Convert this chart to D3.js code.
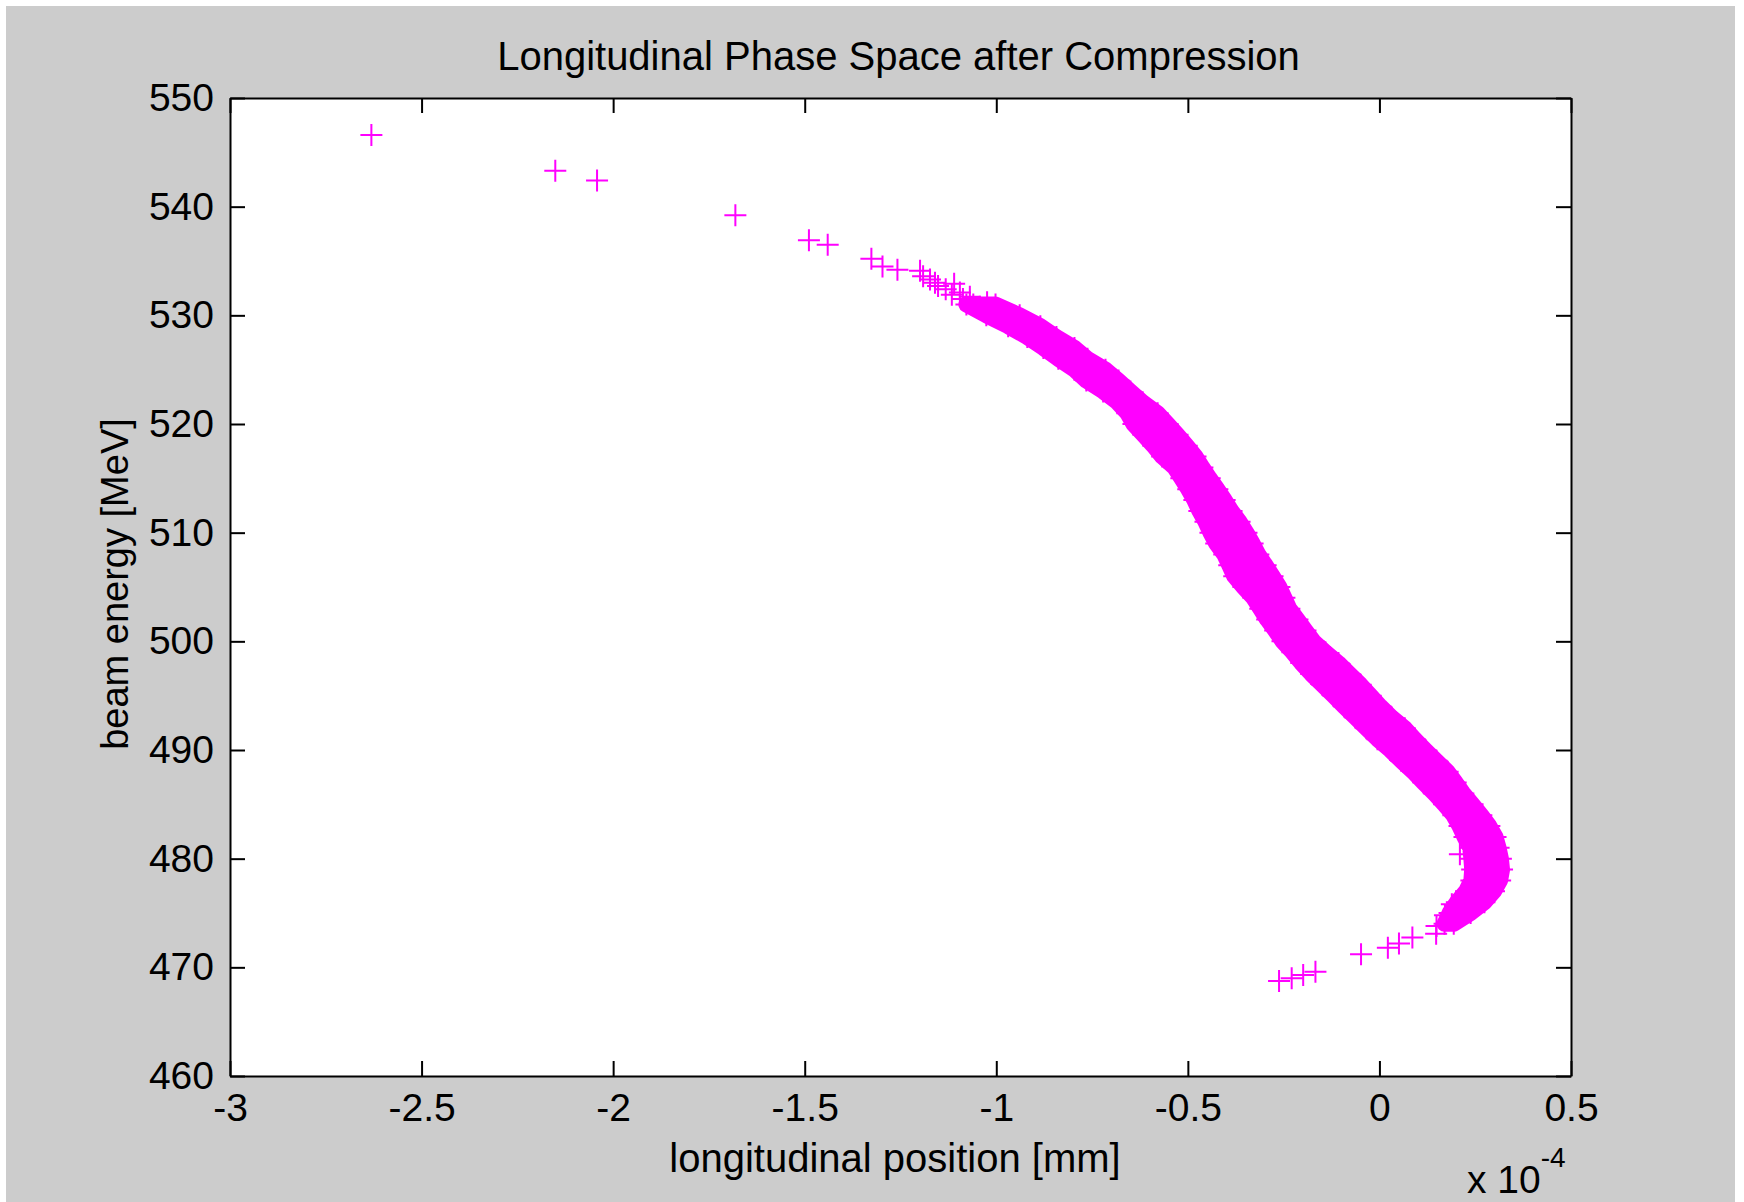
<!DOCTYPE html>
<html>
<head>
<meta charset="utf-8">
<script src="https://cdn.jsdelivr.net/npm/d3@7"></script>
<style>
  html, body { margin: 0; padding: 0; background: #ffffff; }
  svg { display: block; }
</style>
</head>
<body>
<script>
// ---------- data (x in units of 1e-4 mm, energy in MeV) ----------
const xTickValues = [-3, -2.5, -2, -1.5, -1, -0.5, 0, 0.5];
const xTickLabels = ["-3", "-2.5", "-2", "-1.5", "-1", "-0.5", "0", "0.5"];
const yTickValues = [460, 470, 480, 490, 500, 510, 520, 530, 540, 550];
const yTickLabels = ["460", "470", "480", "490", "500", "510", "520", "530", "540", "550"];

// isolated particles at the high-energy head
const headX = [-2.631, -2.151, -2.042, -1.681, -1.489, -1.440, -1.326, -1.297, -1.258];
const headE = [546.6, 543.3, 542.4, 539.2, 536.9, 536.5, 535.2, 534.5, 534.2];

// chain of particles where the core begins
const chainX = [-1.199, -1.191, -1.173, -1.160, -1.152, -1.116, -1.095, -1.087, -1.069, -1.043, -1.024, -1.009, -0.991, -0.972, -0.956, -0.938, -0.920, -0.904, -0.886, -1.132, -1.110, -1.060];
const chainE = [534.1, 533.6, 533.3, 533.0, 532.7, 531.9, 532.1, 531.5, 531.7, 530.8, 531.2, 530.6, 530.1, 529.8, 529.4, 529.2, 528.9, 528.4, 528.4, 532.4, 532.9, 531.0];

// dense core: energy levels with left / right edge particles
const bandE = [531, 530, 529, 528, 527, 526, 525, 524, 523, 522, 521, 520, 519, 518, 517, 516, 515, 514, 513, 512, 511,
               510, 509, 508, 507, 506, 505, 504, 503, 502, 501, 500, 499, 498, 497, 496, 495, 494, 493, 492, 491,
               490, 489, 488, 487, 486, 485, 484, 483, 482, 481, 480, 479, 478, 477, 476, 475, 474];
const bandLeft = [-1.078,
                  -1.026, -0.969, -0.919, -0.877, -0.838, -0.796, -0.765, -0.721, -0.684, -0.658,
                  -0.642, -0.616, -0.590, -0.567, -0.535, -0.517, -0.499, -0.483, -0.470, -0.454,
                  -0.441, -0.426, -0.405, -0.392, -0.379, -0.355, -0.329, -0.311, -0.293, -0.272,
                  -0.253, -0.227, -0.204, -0.178, -0.149, -0.120, -0.092, -0.063, -0.034, -0.005,
                  0.028, 0.057, 0.088, 0.115, 0.143, 0.169, 0.193, 0.209, 0.222, 0.237,
                  0.240, 0.242, 0.240, 0.226, 0.202, 0.183, 0.170];
const bandRight = [-1.002,
                   -0.939, -0.885, -0.843, -0.796, -0.762, -0.715, -0.681, -0.650, -0.618, -0.579,
                   -0.553, -0.527, -0.503, -0.480, -0.462, -0.443, -0.423, -0.404, -0.386, -0.365,
                   -0.347, -0.331, -0.316, -0.297, -0.279, -0.261, -0.248, -0.235, -0.214, -0.193,
                   -0.172, -0.141, -0.107, -0.078, -0.049, -0.023, 0.003, 0.032, 0.066, 0.092,
                   0.120, 0.149, 0.178, 0.199, 0.219, 0.243, 0.266, 0.287, 0.303, 0.311,
                   0.317, 0.320, 0.315, 0.299, 0.274, 0.238, 0.194];

// sparse particles at the low-energy tail
const tailX = [0.210, 0.189, 0.215, 0.171, 0.149, 0.148, 0.086, 0.051, 0.022, -0.048, -0.167, -0.199, -0.229, -0.262];
const tailE = [480.4, 475.8, 475.3, 474.8, 473.8, 473.1, 472.75, 472.2, 471.8, 471.2, 469.6, 469.3, 469.0, 468.75];

// ---------- layout ----------
const W = 1744, H = 1202;
const plot = { left: 230, right: 1571, top: 98, bottom: 1076 };
const FONT = "'Liberation Sans', Arial, Helvetica, sans-serif";
const MAGENTA = "#ff00ff";

const svg = d3.select("body").append("svg").attr("width", W).attr("height", H);

svg.append("rect").attr("x", 6).attr("y", 6).attr("width", 1729).attr("height", 1196).attr("fill", "#cccccc");

const x = d3.scaleLinear().domain([-3, 0.5]).range([plot.left, plot.right]);
const y = d3.scaleLinear().domain([460, 550]).range([plot.bottom, plot.top]);

svg.append("rect")
  .attr("x", plot.left).attr("y", plot.top)
  .attr("width", plot.right - plot.left).attr("height", plot.bottom - plot.top)
  .attr("fill", "#ffffff");

// ---------- marks ----------
const marks = svg.append("g");

const band = bandE.map((e, i) => ({ e: e, l: bandLeft[i], r: bandRight[i] }));
const area = d3.area().x0(d => x(d.l)).x1(d => x(d.r)).y(d => y(d.e)).curve(d3.curveLinear);
marks.append("path").datum(band)
  .attr("d", area)
  .attr("fill", MAGENTA).attr("stroke", MAGENTA).attr("stroke-width", 16).attr("stroke-linejoin", "round");

const plusPath = "M-11,0H11M0,-11V11";
function drawPlus(xs, es) {
  marks.append("g").selectAll("path").data(xs.map((v, i) => [v, es[i]])).join("path")
    .attr("d", plusPath)
    .attr("transform", d => `translate(${x(d[0])},${y(d[1])})`)
    .attr("stroke", MAGENTA).attr("stroke-width", 2).attr("fill", "none");
}
drawPlus(headX, headE);
drawPlus(chainX, chainE);
drawPlus(bandLeft, bandE);
drawPlus(bandRight, bandE);
drawPlus(tailX, tailE);

// ---------- axes ----------
function styleAxis(g) {
  g.attr("font-family", FONT).attr("font-size", 39);
  g.selectAll(".domain").attr("stroke", "#000").attr("stroke-width", 2);
  g.selectAll(".tick line").attr("stroke", "#000").attr("stroke-width", 2);
  g.selectAll(".tick text").attr("fill", "#000");
}

svg.append("g").attr("transform", `translate(0,${plot.bottom})`)
  .call(d3.axisBottom(x).tickValues(xTickValues).tickFormat((d, i) => xTickLabels[i]).tickSize(-15).tickSizeOuter(0).tickPadding(17))
  .call(styleAxis);
svg.append("g").attr("transform", `translate(0,${plot.top})`)
  .call(d3.axisTop(x).tickValues(xTickValues).tickFormat("").tickSize(-15).tickSizeOuter(0))
  .call(styleAxis);
svg.append("g").attr("transform", `translate(${plot.left},0)`)
  .call(d3.axisLeft(y).tickValues(yTickValues).tickFormat((d, i) => yTickLabels[i]).tickSize(-15).tickSizeOuter(0).tickPadding(16))
  .call(styleAxis);
svg.append("g").attr("transform", `translate(${plot.right},0)`)
  .call(d3.axisRight(y).tickValues(yTickValues).tickFormat("").tickSize(-15).tickSizeOuter(0))
  .call(styleAxis);

// ---------- text ----------
svg.append("text")
  .attr("x", (plot.left + plot.right) / 2 - 2).attr("y", 70)
  .attr("text-anchor", "middle").attr("font-family", FONT).attr("font-size", 40).attr("fill", "#000")
  .text("Longitudinal Phase Space after Compression");

svg.append("text")
  .attr("x", 895).attr("y", 1172)
  .attr("text-anchor", "middle").attr("font-family", FONT).attr("font-size", 40).attr("fill", "#000")
  .text("longitudinal position [mm]");

svg.append("text")
  .attr("transform", "translate(128,584) rotate(-90)")
  .attr("text-anchor", "middle").attr("font-family", FONT).attr("font-size", 38).attr("fill", "#000")
  .text("beam energy [MeV]");

const mult = svg.append("text")
  .attr("x", 1467).attr("y", 1193)
  .attr("font-family", FONT).attr("font-size", 39).attr("fill", "#000");
mult.append("tspan").text("x 10");
mult.append("tspan").attr("dy", -26).attr("font-size", 28).text("-4");
</script>
</body>
</html>
